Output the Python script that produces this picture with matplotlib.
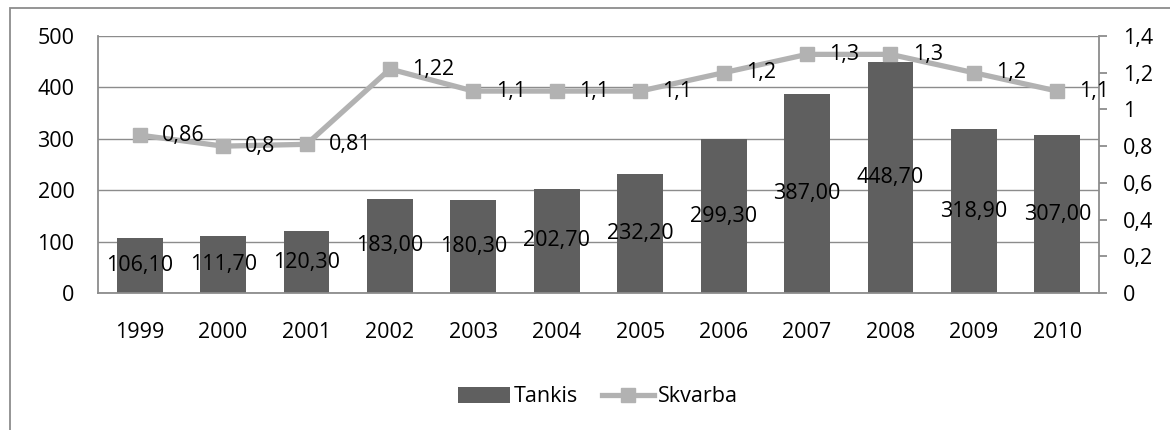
import matplotlib.pyplot as plt
import numpy as np
from matplotlib.patches import Rectangle

# data
years = ["1999", "2000", "2001", "2002", "2003", "2004",
         "2005", "2006", "2007", "2008", "2009", "2010"]
tankis = [106.10, 111.70, 120.30, 183.00, 180.30, 202.70,
          232.20, 299.30, 387.00, 448.70, 318.90, 307.00]
skvarba = [0.86, 0.8, 0.81, 1.22, 1.1, 1.1, 1.1, 1.2, 1.3, 1.3, 1.2, 1.1]

plt.rcParams["font.family"] = ["Open Sans", "DejaVu Sans"]

bar_color = "#5f5f5f"
line_color = "#b2b2b2"
axis_gray = "#8c8c8c"
fs = 15.5


def fmt_comma(v, digits=None):
    s = f"{v:.{digits}f}" if digits is not None else f"{v:g}"
    return s.replace(".", ",")


fig = plt.figure(figsize=(11.7, 4.3), dpi=100)
ax = fig.add_axes([98 / 1170, 137 / 430, 1001 / 1170, 257 / 430])

# outer chart border
fig.patches.append(Rectangle((10 / 1170, -0.1), 1.2, (430 - 8) / 430 + 0.1,
                             transform=fig.transFigure, fill=False,
                             edgecolor=axis_gray, linewidth=1.3))

x = np.arange(len(years))
bars = ax.bar(x, tankis, width=0.55, color=bar_color, zorder=2, label="Tankis")
ax.set_xlim(-0.5, len(years) - 0.5)
ax.set_ylim(0, 500)
ax.set_yticks(range(0, 501, 100))
ax.set_xticks(x)
ax.set_xticklabels(years)
ax.tick_params(axis="both", length=0, labelsize=fs)
ax.tick_params(axis="y", pad=17)
ax.tick_params(axis="x", pad=21)
ax.grid(axis="y", color=axis_gray, linewidth=1.0, zorder=0)
for side in ["top", "right"]:
    ax.spines[side].set_visible(False)
for side in ["left", "bottom"]:
    ax.spines[side].set_color(axis_gray)
    ax.spines[side].set_linewidth(1.3)

for xi, v in zip(x, tankis):
    ax.text(xi, v / 2, fmt_comma(v, 2), ha="center", va="center",
            fontsize=fs, color="black", zorder=5)

ax2 = ax.twinx()
ln, = ax2.plot(x, skvarba, color=line_color, linewidth=3.8, marker="s",
               markersize=10.5, zorder=4, label="Skvarba")
ax2.set_ylim(0, 1.4)
ax2.set_yticks(np.arange(0, 1.41, 0.2))
ax2.set_yticklabels([fmt_comma(round(t, 1)) for t in np.arange(0, 1.41, 0.2)])
ax2.tick_params(axis="y", length=6, width=1.3, color=axis_gray, labelsize=fs, pad=11)
for side in ["top", "left", "bottom"]:
    ax2.spines[side].set_visible(False)
ax2.spines["right"].set_color(axis_gray)
ax2.spines["right"].set_linewidth(1.3)

for xi, v in zip(x, skvarba):
    ax2.annotate(fmt_comma(v), (xi, v), xytext=(16, 0), textcoords="offset points",
                 ha="left", va="center", fontsize=fs, color="black", zorder=6)

fig.legend([bars, ln], ["Tankis", "Skvarba"], loc="center",
           bbox_to_anchor=(598 / 1170, 1 - 397 / 430), ncol=2, frameon=False,
           fontsize=fs, handlelength=2.4, handleheight=0.7, columnspacing=1.1,
           handletextpad=0.2)

fig.savefig("out.png", dpi=100)
